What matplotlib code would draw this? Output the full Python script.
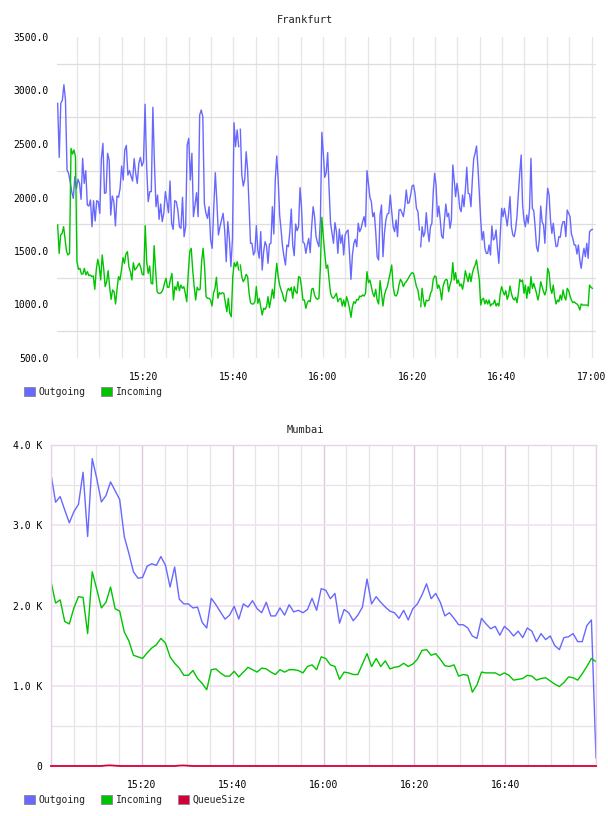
import numpy as np
import pandas as pd
import matplotlib
matplotlib.use('Agg')
import matplotlib.pyplot as plt
import matplotlib.dates as mdates
from matplotlib.patches import Patch

# ---- Frankfurt data (three stretches of the day) ----
fra_spans = [('15:00:43', '15:41:10'), ('15:41:32', '16:21:32'), ('16:21:50', '17:00:11')]

fra_out_1 = [2880, 2375, 2880, 2910, 3054, 2910, 2257, 2226, 2148, 2055,
             1992, 2195, 2086, 2170, 2132, 1983, 2366, 2132, 2251, 1930,
             1920, 1977, 1727, 1970, 1780, 1970, 1961, 1852, 2366, 2506,
             2039, 2045, 2413, 2350, 1836, 2014, 1961, 1734, 2014, 2002,
             2086, 2294, 2164, 2444, 2487, 2210, 2251, 2201, 2154, 2363,
             2226, 2132, 2319, 2375, 2294, 2335, 2871, 2288, 1961, 2055,
             2055, 2843, 2319, 1914, 2023, 1796, 1939, 1774, 1852, 2055,
             1961, 1858, 2154, 1759, 1702, 1970, 1961, 1883, 1727, 1712,
             2002, 1634, 1727, 2491, 2553, 2164, 2413, 1821, 1930, 2045,
             1821, 2771, 2818, 2755, 1945, 1852, 1805, 1914, 1603, 1525,
             1899, 2232, 1961, 1650, 1727, 1790, 1852, 1696, 1400, 1774,
             1618, 1354, 1618, 2699, 2475, 2631, 2475]
fra_in_1 = [1743, 1478, 1650, 1665, 1727, 1609, 1494, 1463, 1478, 2459,
            2406, 2444, 2382, 1400, 1329, 1338, 1285, 1285, 1338, 1276,
            1307, 1270, 1276, 1260, 1267, 1142, 1322, 1422, 1354, 1229,
            1463, 1338, 1167, 1213, 1316, 1167, 1048, 1136, 1120, 1005,
            1142, 1260, 1229, 1322, 1438, 1385, 1472, 1494, 1354, 1307,
            1229, 1391, 1322, 1338, 1363, 1385, 1344, 1282, 1276, 1737,
            1400, 1291, 1360, 1198, 1192, 1550, 1322, 1120, 1104, 1104,
            1114, 1142, 1198, 1245, 1161, 1161, 1235, 1291, 1042, 1167,
            1136, 1213, 1129, 1182, 1151, 1167, 1104, 1026, 1291, 1494,
            1525, 1322, 1167, 1042, 1161, 1136, 1142, 1400, 1525, 1354,
            1073, 1058, 1058, 1042, 986, 1104, 1151, 1254, 1058, 1111,
            1098, 1111, 1104, 1017, 933, 1058, 917, 886, 1260, 1391,
            1354, 1400, 1322]

fra_out_2 = [2637, 2210, 2107, 2170, 2428, 2257, 1914, 1572, 1572, 1463,
             1494, 1737, 1509, 1432, 1681, 1322, 1494, 1587, 1547, 1385,
             1565, 1572, 1914, 1659, 2164, 2388, 2164, 1836, 1696, 1540,
             1447, 1369, 1556, 1540, 1681, 1892, 1556, 1456, 1752, 1690,
             1727, 2092, 1914, 1581, 1572, 1478, 1556, 1618, 1485, 1727,
             1914, 1821, 1634, 1581, 1540, 1790, 2609, 2413, 2188, 2232,
             2419, 2070, 1759, 1665, 1572, 1765, 1681, 1478, 1706, 1572,
             1650, 1463, 1650, 1681, 1696, 1478, 1235, 1463, 1572, 1609,
             1540, 1759, 1681, 1712, 1774, 1821, 1727, 2251, 2132, 2002,
             1961, 1821, 1858, 1681, 1447, 1416, 1836, 1930, 1447, 1665,
             1790, 1846, 1852, 2023, 1868, 1727, 1681, 1790, 1634, 1883,
             1889, 1858, 1821, 1920, 2070, 1945, 1952, 2023, 2107, 2117,
             2039, 1899, 1868, 1696]
fra_in_2 = [1369, 1260, 1213, 1238, 1282, 1260, 1104, 1017, 1005, 1005,
            1026, 1167, 1011, 1058, 980, 902, 964, 955, 980, 1073,
            970, 1048, 1142, 1058, 1235, 1385, 1260, 1182, 1136, 1098,
            1042, 1026, 1120, 1151, 1129, 1161, 1058, 1167, 1120, 1104,
            1260, 1254, 1167, 1042, 1042, 964, 1017, 1036, 1026, 1142,
            1151, 1089, 1058, 1048, 1058, 1354, 1815, 1634, 1478, 1338,
            1369, 1229, 1104, 1067, 1058, 1079, 1104, 1026, 1051, 1058,
            986, 1042, 980, 1073, 1026, 964, 880, 980, 1026, 1011,
            1048, 1042, 1079, 1073, 1089, 1079, 1104, 1307, 1204, 1229,
            1167, 1104, 1073, 1142, 1042, 1005, 1223, 1104, 986, 1089,
            1136, 1167, 1235, 1298, 1369, 1167, 1089, 1079, 1104, 1182,
            1235, 1213, 1167, 1198, 1213, 1235, 1260, 1282, 1298, 1291,
            1229, 1167, 1136, 1042]

fra_out_3 = [1540, 1727, 1634, 1671, 1858, 1696, 1587, 1727, 1759, 2055,
             2226, 2117, 1821, 1920, 1790, 1640, 1618, 1790, 1939, 1821,
             1852, 1712, 1790, 2304, 2164, 2008, 2132, 2039, 1899, 1868,
             2023, 1914, 2070, 2282, 2039, 2033, 1914, 2164, 2366, 2413,
             2481, 2288, 2039, 1790, 1603, 1681, 1525, 1478, 1478, 1556,
             1463, 1734, 1603, 1618, 1696, 1525, 1385, 1650, 1899, 1821,
             1899, 1821, 1734, 1852, 2008, 1727, 1650, 1634, 1702, 1827,
             2039, 2232, 2397, 1930, 1790, 1727, 1836, 1759, 1899, 2366,
             1899, 1877, 1727, 1540, 1494, 1609, 1920, 1774, 1743, 1572,
             1883, 2086, 2023, 1790, 1665, 1759, 1634, 1540, 1547, 1634,
             1628, 1727, 1774, 1774, 1634, 1883, 1852, 1821, 1659, 1618,
             1556, 1556, 1472, 1556, 1416, 1338, 1447, 1525, 1447, 1572,
             1432, 1681, 1696, 1702]
fra_in_3 = [980, 1151, 1036, 980, 1042, 1033, 1042, 1104, 1129, 1235,
            1266, 1260, 1151, 1182, 1136, 1042, 1167, 1213, 1235, 1229,
            1120, 1182, 1229, 1391, 1229, 1298, 1198, 1229, 1173, 1192,
            1142, 1213, 1316, 1260, 1213, 1291, 1213, 1291, 1338, 1369,
            1416, 1322, 1229, 995, 1048, 1058, 1005, 1042, 1005, 1042,
            986, 1005, 1005, 1042, 986, 1011, 986, 1104, 1167, 1120,
            1089, 1129, 1048, 1089, 1173, 1104, 1058, 1042, 1067, 1017,
            1104, 1235, 1213, 1229, 1104, 1182, 1058, 1167, 1104, 1260,
            1151, 1198, 1151, 1104, 1042, 1104, 1213, 1167, 1120, 1089,
            1136, 1338, 1298, 1151, 1104, 1182, 1073, 1005, 1042, 1026,
            1089, 1042, 1136, 1073, 1042, 1151, 1129, 1079, 1042, 1017,
            1026, 1011, 1005, 986, 949, 1005, 995, 995, 995, 995,
            986, 1182, 1161, 1151]

fra_yticks = [500, 1000, 1500, 2000, 2500, 3000, 3500]
fra_xticks = ['15:20', '15:40', '16:00', '16:20', '16:40', '17:00']

# ---- Mumbai data (one sample a minute) ----
mum_out = [3635, 3287, 3357, 3190, 3030, 3170, 3260, 3660, 2860, 3830,
           3580, 3290, 3370, 3540, 3430, 3320, 2860, 2650, 2420, 2340,
           2350, 2490, 2520, 2500, 2610, 2500, 2230, 2480, 2080, 2020,
           2020, 1970, 1980, 1790, 1720, 2090, 2010, 1920, 1830, 1880,
           1990, 1830, 2020, 1980, 2060, 1960, 1910, 2040, 1870, 1870,
           1970, 1880, 2010, 1920, 1940, 1910, 1950, 2090, 1940, 2210,
           2190, 2085, 2150, 1780, 1950, 1910, 1810, 1880, 1980, 2330,
           2020, 2110, 2040, 1980, 1930, 1910, 1840, 1940, 1820, 1960,
           2020, 2130, 2270, 2085, 2150, 2040, 1870, 1910, 1840, 1760,
           1760, 1720, 1620, 1590, 1840, 1770, 1710, 1740, 1630, 1740,
           1690, 1620, 1680, 1600, 1720, 1680, 1550, 1650, 1575, 1620,
           1500, 1450, 1600, 1610, 1650, 1550, 1550, 1750, 1820, 100]
mum_in = [2300, 2030, 2070, 1800, 1770, 1970, 2110, 2100, 1650, 2420,
          2200, 1970, 2040, 2230, 1960, 1930, 1670, 1560, 1380, 1360,
          1340, 1410, 1470, 1510, 1590, 1530, 1360, 1280, 1220, 1130,
          1130, 1190, 1090, 1030, 950, 1200, 1210, 1160, 1120, 1120,
          1180, 1110, 1170, 1230, 1200, 1170, 1220, 1210, 1170, 1140,
          1200, 1170, 1200, 1200, 1190, 1160, 1240, 1260, 1200, 1360,
          1340, 1260, 1240, 1080, 1170, 1160, 1140, 1140, 1270, 1400,
          1240, 1340, 1240, 1310, 1210, 1230, 1240, 1280, 1240, 1270,
          1330, 1440, 1450, 1380, 1400, 1330, 1250, 1240, 1260, 1120,
          1140, 1130, 920, 1010, 1170, 1160, 1160, 1160, 1130, 1160,
          1130, 1070, 1080, 1090, 1130, 1120, 1070, 1090, 1100, 1060,
          1020, 990, 1040, 1110, 1100, 1070, 1150, 1240, 1340, 1300]
mum_queue = [0, 0, 0, 0, 0, 0, 0, 0, 0, 0,
             0, 0, 6, 8, 4, 0, 0, 0, 0, 0,
             0, 0, 0, 0, 0, 0, 0, 0, 5, 7,
             3, 0, 0, 0, 0, 0, 0, 0, 0, 0,
             0, 0, 0, 0, 0, 0, 0, 0, 0, 0,
             0, 0, 0, 0, 0, 0, 0, 0, 0, 0,
             0, 0, 0, 0, 0, 0, 0, 0, 0, 0,
             0, 0, 0, 0, 0, 0, 0, 0, 0, 0,
             0, 0, 0, 0, 0, 0, 0, 0, 0, 0,
             0, 0, 0, 0, 0, 0, 0, 0, 0, 0,
             0, 0, 0, 0, 0, 0, 0, 0, 0, 0,
             0, 0, 0, 0, 0, 0, 0, 0, 0, 0]
mum_yticks = [0, 1000, 2000, 3000, 4000]
mum_ylabels = ['0', '1.0 K', '2.0 K', '3.0 K', '4.0 K']
mum_xticks = ['15:20', '15:40', '16:00', '16:20', '16:40']

DAY = '2024-01-01 '
def t(s):
    return pd.Timestamp(DAY + s)

BLUE = '#6868ff'
GREEN = '#00c400'
RED = '#d4003a'

plt.rcParams['font.family'] = ['DejaVu Sans Mono']
plt.rcParams['font.size'] = 7
plt.rcParams['text.color'] = '#222222'

W, H = 608, 816
fig = plt.figure(figsize=(W / 100, H / 100), dpi=100)

legend_kw = dict(frameon=False, loc='center left', handlelength=1.1,
                 handleheight=1.1, handletextpad=0.4, columnspacing=1.6,
                 borderpad=0, borderaxespad=0)

# ================= Frankfurt =================
ax1 = fig.add_axes([57 / W, 1 - 358 / H, (596 - 57) / W, (358 - 37) / H])
outs = [fra_out_1, fra_out_2, fra_out_3]
ins = [fra_in_1, fra_in_2, fra_in_3]
for (a, b), o in zip(fra_spans, outs):
    ax1.plot(pd.date_range(t(a), t(b), periods=len(o)), o, color=BLUE, lw=1.0)
for (a, b), i in zip(fra_spans, ins):
    ax1.plot(pd.date_range(t(a), t(b), periods=len(i)), i, color=GREEN, lw=1.0)

ax1.set_xlim(t('15:00:34'), t('17:01:00'))
ax1.set_ylim(500, 3500)
ax1.set_yticks(fra_yticks)
ax1.set_yticklabels(['%.1f' % v for v in fra_yticks])
ax1.set_yticks([v + 250 for v in fra_yticks[:-1]], minor=True)
ax1.set_xticks([t(s) for s in fra_xticks])
ax1.set_xticklabels(fra_xticks)
ax1.xaxis.set_minor_locator(mdates.MinuteLocator(byminute=range(0, 60, 5)))
ax1.grid(False)
ax1.yaxis.grid(True, which='minor', color='#dedede', lw=0.9)
ax1.xaxis.grid(True, which='both', color='#e6e6e6', lw=0.9)
ax1.set_axisbelow(True)
ax1.tick_params(which='both', length=0)
ax1.tick_params(axis='y', pad=6)
ax1.tick_params(axis='x', pad=10)
for sp in ax1.spines.values():
    sp.set_visible(False)

fig.text(305 / W, 1 - 20 / H, 'Frankfurt', ha='center', va='center', fontsize=7.5)

fig.legend(handles=[Patch(facecolor=BLUE, edgecolor='#888888', lw=0.6),
                    Patch(facecolor=GREEN, edgecolor='#888888', lw=0.6)],
           labels=['Outgoing', 'Incoming'], ncol=2,
           bbox_to_anchor=(24 / W, 1 - 392 / H), **legend_kw)

# ================= Mumbai =================
ax2 = fig.add_axes([51 / W, 1 - 766 / H, (596 - 51) / W, (766 - 445) / H])
mt = pd.date_range(t('15:00'), t('17:00'), periods=len(mum_out))
ax2.plot(mt, mum_out, color=BLUE, lw=1.0)
ax2.plot(mt, mum_in, color=GREEN, lw=1.0)
ax2.plot(mt, mum_queue, color=RED, lw=1.3, clip_on=False, zorder=5)

ax2.set_xlim(t('15:00'), t('17:00'))
ax2.set_ylim(0, 4000)
ax2.set_yticks(mum_yticks)
ax2.set_yticklabels(mum_ylabels)
ax2.set_yticks([v + 500 for v in mum_yticks[:-1]], minor=True)
ax2.set_xticks([t(s) for s in mum_xticks])
ax2.set_xticklabels(mum_xticks)
ax2.xaxis.set_minor_locator(mdates.MinuteLocator(byminute=range(0, 60, 5)))
ax2.yaxis.grid(True, which='major', color='#f0e2f0', lw=1.2)
ax2.yaxis.grid(True, which='minor', color='#e6e4e6', lw=0.9)
ax2.xaxis.grid(True, which='major', color='#dccadc', lw=1.0)
ax2.xaxis.grid(True, which='minor', color='#e6e4e6', lw=0.9)
ax2.set_axisbelow(True)
ax2.tick_params(which='both', length=0)
ax2.tick_params(axis='y', pad=6)
ax2.tick_params(axis='x', pad=10)
for k in ['left', 'right', 'top']:
    ax2.spines[k].set_color('#e6d4e6')
    ax2.spines[k].set_linewidth(1.0)
ax2.spines['bottom'].set_visible(False)

fig.text(305 / W, 1 - 430 / H, 'Mumbai', ha='center', va='center', fontsize=7.5)

fig.legend(handles=[Patch(facecolor=BLUE, edgecolor='#888888', lw=0.6),
                    Patch(facecolor=GREEN, edgecolor='#888888', lw=0.6),
                    Patch(facecolor=RED, edgecolor='#888888', lw=0.6)],
           labels=['Outgoing', 'Incoming', 'QueueSize'], ncol=3,
           bbox_to_anchor=(24 / W, 1 - 800 / H), **legend_kw)

fig.savefig('out.png', dpi=100)
